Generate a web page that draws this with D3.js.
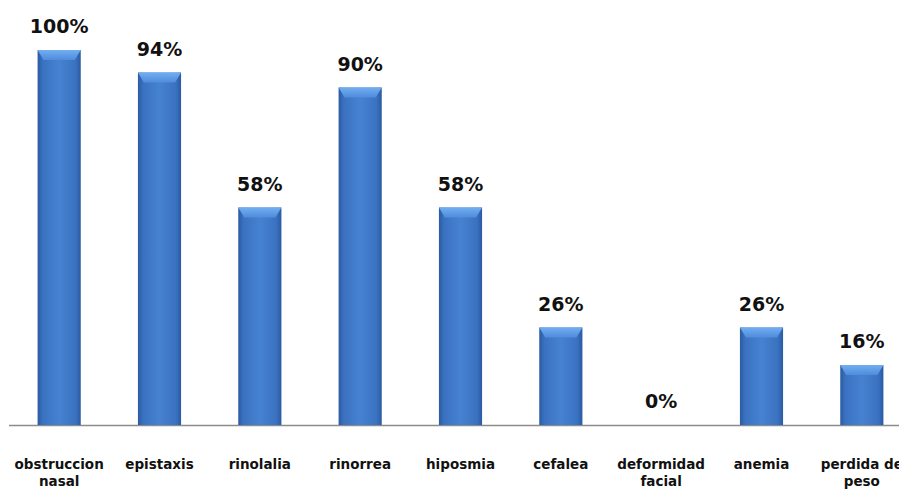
<!DOCTYPE html>
<html>
<head>
<meta charset="utf-8">
<script src="https://cdn.jsdelivr.net/npm/d3@7"></script>
<style>
  body { margin: 0; background: #fff; }
  svg { display: block; }
  .val { font-family: "DejaVu Sans", sans-serif; font-weight: bold; font-size: 19px; fill: #111; }
  .cat { font-family: "DejaVu Sans", sans-serif; font-weight: bold; font-size: 13.5px; fill: #111; }
</style>
</head>
<body>
<div id="chart"></div>
<script>
var width = 899,
    height = 489;

// data
var categories = ['obstruccion nasal', 'epistaxis', 'rinolalia', 'rinorrea', 'hiposmia',
                  'cefalea', 'deformidad facial', 'anemia', 'perdida de peso'];
var labelLines = [['obstruccion', 'nasal'], ['epistaxis'], ['rinolalia'], ['rinorrea'], ['hiposmia'],
                  ['cefalea'], ['deformidad', 'facial'], ['anemia'], ['perdida de', 'peso']];
var percents = [100, 94, 58, 90, 58, 26, 0, 26, 16];

var baseY = 425;

var x = d3.scaleBand()
    .domain(categories)
    .range([9, 912])
    .paddingInner(0.57)
    .paddingOuter(0.285);

var y = d3.scaleLinear()
    .domain([0, 100])
    .range([baseY, 50]);

var svg = d3.select('#chart').append('svg')
    .attr('width', width)
    .attr('height', height);

var defs = svg.append('defs');

var side = defs.append('linearGradient')
    .attr('id', 'barSide')
    .attr('x1', '0').attr('x2', '1').attr('y1', '0').attr('y2', '0');
side.append('stop').attr('offset', '0').attr('stop-color', '#2a5aa3');
side.append('stop').attr('offset', '0.12').attr('stop-color', '#3a72c0');
side.append('stop').attr('offset', '0.5').attr('stop-color', '#4682d1');
side.append('stop').attr('offset', '0.88').attr('stop-color', '#3a72c0');
side.append('stop').attr('offset', '1').attr('stop-color', '#2a5aa3');

var topGrad = defs.append('linearGradient')
    .attr('id', 'barTop')
    .attr('x1', '0').attr('x2', '0').attr('y1', '0').attr('y2', '1');
topGrad.append('stop').attr('offset', '0').attr('stop-color', '#72aef2');
topGrad.append('stop').attr('offset', '1').attr('stop-color', '#4f8cda');

// axis line
svg.append('line')
    .attr('x1', 9).attr('x2', width)
    .attr('y1', baseY + 0.5).attr('y2', baseY + 0.5)
    .attr('stroke', '#8c8c8c')
    .attr('stroke-width', 1.5);

var bars = svg.selectAll('g.bar')
    .data(categories)
    .enter().append('g')
    .attr('class', 'bar');

bars.filter(function(d, i){ return percents[i] > 0; })
    .append('rect')
    .attr('x', function(d){ return x(d); })
    .attr('y', function(d){ return y(percents[categories.indexOf(d)]); })
    .attr('width', x.bandwidth())
    .attr('height', function(d){ return baseY - y(percents[categories.indexOf(d)]); })
    .attr('fill', 'url(#barSide)');

// top bevel
bars.filter(function(d, i){ return percents[i] > 0; })
    .append('polygon')
    .attr('points', function(d){
        var x0 = x(d), x1 = x0 + x.bandwidth(), t = y(percents[categories.indexOf(d)]);
        var b = 10;
        return [[x0, t], [x1, t], [x1 - 6, t + b], [x0 + 6, t + b]].join(' ');
    })
    .attr('fill', 'url(#barTop)');

// value labels
svg.selectAll('text.val')
    .data(categories)
    .enter().append('text')
    .attr('class', 'val')
    .attr('text-anchor', 'middle')
    .attr('x', function(d){ return x(d) + x.bandwidth() / 2; })
    .attr('y', function(d, i){ return y(percents[i]) - 17; })
    .text(function(d, i){ return percents[i] + '%'; });

// category labels
var cats = svg.selectAll('text.cat')
    .data(categories)
    .enter().append('text')
    .attr('class', 'cat')
    .attr('text-anchor', 'middle')
    .attr('x', function(d){ return x(d) + x.bandwidth() / 2; })
    .attr('y', 469);

cats.selectAll('tspan')
    .data(function(d, i){ return labelLines[i]; })
    .enter().append('tspan')
    .attr('x', function(){ var p = this.parentNode; return p.getAttribute('x'); })
    .attr('dy', function(d, i){ return i === 0 ? 0 : 17; })
    .text(function(d){ return d; });
</script>
</body>
</html>
